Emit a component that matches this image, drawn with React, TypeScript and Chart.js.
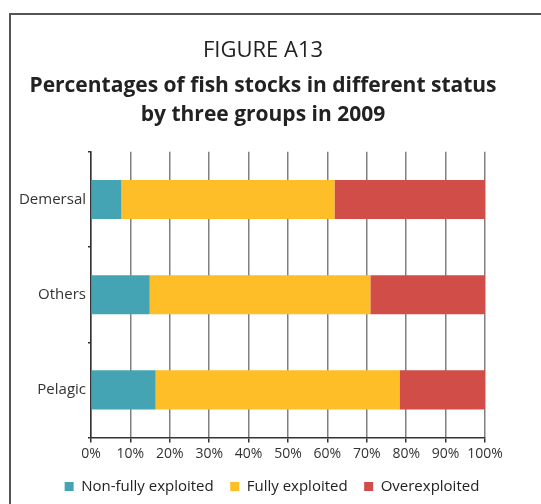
import { useEffect, useRef } from "react";
import { Chart, registerables } from "chart.js";

Chart.register(...registerables);

const categories = ["Demersal", "Others", "Pelagic"];
const seriesNames = ["Non-fully exploited", "Fully exploited", "Overexploited"];
const nonFully = [7.7, 14.9, 16.4];
const fully = [54.1, 56.0, 61.9];
const overexploited = [38.2, 29.1, 21.7];
const seriesColors = ["#45A4B4", "#FEBE27", "#D14D48"];
const titleText = "FIGURE A13";
const subtitleLines = ["Percentages of fish stocks in different status", "by three groups in 2009"];

const FONT = "'Open Sans', 'Noto Sans', sans-serif";

const legendShift = {
  id: "legendShift",
  afterLayout(chart: any) {
    if (chart.legend) {
      chart.legend.left += 9;
      chart.legend.right += 9;
    }
  },
};

export default function App() {
  const ref = useRef<HTMLCanvasElement>(null);

  useEffect(() => {
    if (!ref.current) return;
    const chart = new Chart(ref.current, {
      type: "bar",
      data: {
        labels: categories,
        datasets: [
          { label: seriesNames[0], data: nonFully, backgroundColor: seriesColors[0] },
          { label: seriesNames[1], data: fully, backgroundColor: seriesColors[1] },
          { label: seriesNames[2], data: overexploited, backgroundColor: seriesColors[2] },
        ],
      },
      options: {
        indexAxis: "y",
        animation: false,
        responsive: false,
        layout: { padding: { left: 0, right: 15, top: 0, bottom: 0 } },
        datasets: { bar: { barPercentage: 0.41, categoryPercentage: 1 } },
        scales: {
          x: {
            stacked: true,
            min: 0,
            max: 100,
            ticks: {
              stepSize: 10,
              callback: (v: any) => v + "%",
              font: { family: FONT, size: 14 },
              color: "#333",
              padding: 3,
              maxRotation: 0,
            },
            grid: { color: "#808080", lineWidth: 1.5, tickLength: 5, tickColor: "#333" },
            border: { color: "#333", width: 1.5 },
            afterFit: (s: any) => {
              s.height = 25;
            },
          },
          y: {
            stacked: true,
            ticks: { font: { family: FONT, size: 15 }, color: "#333", padding: 2 },
            grid: { drawOnChartArea: false, tickLength: 3, color: "#333", lineWidth: 1.5 },
            border: { color: "#333", width: 1.5 },
            afterFit: (s: any) => {
              s.width = 91;
            },
          },
          yRight: {
            type: "category",
            position: "right",
            grid: { display: false },
            ticks: { display: false },
            border: { display: false },
            afterFit: (s: any) => {
              s.width = 41;
            },
          },
        },
        plugins: {
          title: {
            display: true,
            text: titleText,
            font: { family: FONT, size: 22, weight: "normal", lineHeight: 1 },
            color: "#222",
            padding: { top: 40, bottom: 0 },
          },
          subtitle: {
            display: true,
            text: subtitleLines,
            font: { family: FONT, size: 21, weight: "bold", lineHeight: 1.4 },
            color: "#222",
            padding: { top: 9, bottom: 22 },
          },
          legend: {
            position: "bottom",
            maxHeight: 43,
            labels: {
              boxWidth: 9,
              boxHeight: 9,
              padding: 16.5,
              font: { family: FONT, size: 15 },
              color: "#222",
            },
          },
          tooltip: { enabled: false },
        },
      },
      plugins: [legendShift],
    });
    return () => chart.destroy();
  }, []);

  return (
    <div style={{ position: "fixed", left: 0, top: 0, width: 541, height: 504, overflow: "hidden", background: "#fff" }}>
      <div
        style={{
          position: "absolute",
          left: 9,
          top: 13,
          width: 700,
          height: 700,
          borderTop: "2px solid #555",
          borderLeft: "2px solid #555",
        }}
      />
      <canvas ref={ref} width={541} height={504} style={{ position: "absolute", left: 0, top: 0 }} />
    </div>
  );
}
